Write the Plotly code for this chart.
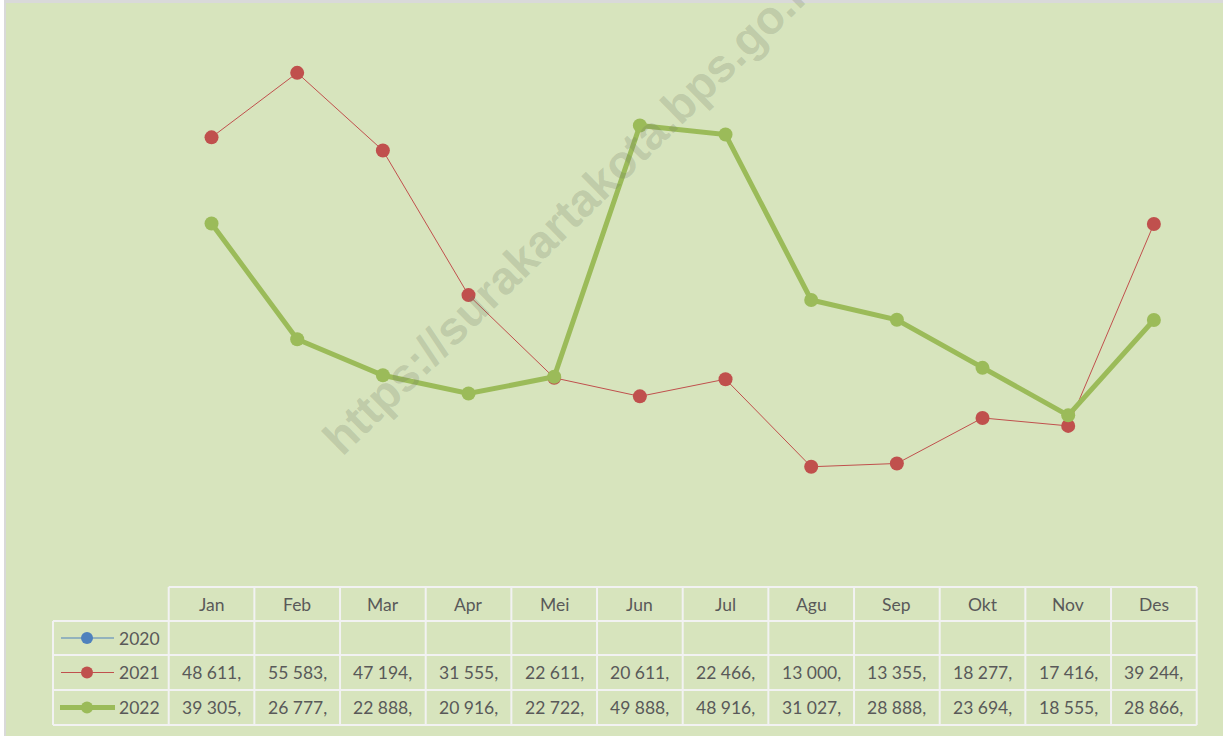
import plotly.graph_objects as go

months = ["Jan", "Feb", "Mar", "Apr", "Mei", "Jun", "Jul", "Agu", "Sep", "Okt", "Nov", "Des"]
series_names = ["2020", "2021", "2022"]
v2020 = [None] * 12
v2021 = [48611, 55583, 47194, 31555, 22611, 20611, 22466, 13000, 13355, 18277, 17416, 39244]
v2022 = [39305, 26777, 22888, 20916, 22722, 49888, 48916, 31027, 28888, 23694, 18555, 28866]
labels2021 = ["48 611,", "55 583,", "47 194,", "31 555,", "22 611,", "20 611,", "22 466,", "13 000,", "13 355,", "18 277,", "17 416,", "39 244,"]
labels2022 = ["39 305,", "26 777,", "22 888,", "20 916,", "22 722,", "49 888,", "48 916,", "31 027,", "28 888,", "23 694,", "18 555,", "28 866,"]
labels2020 = [""] * 12

W, H = 1223, 736
BG = "#d7e4bd"
GRID = "#f2f2f2"
TXT = "#595959"
FONT = "Lato"
FS = 17.5
colors = {"2020": "#4f81bd", "2021": "#c0504d", "2022": "#9bbb59"}
widths = {"2020": 1, "2021": 1, "2022": 5}


def px(x):
    return x / W


def py(y):
    return (H - y) / H


x_left, x_right = 168.7, 1196.7
fig = go.Figure()
idx = list(range(12))
for name, vals in zip(series_names, [v2020, v2021, v2022]):
    fig.add_trace(go.Scatter(
        x=idx, y=vals, mode="lines+markers", name=name,
        line=dict(color=colors[name], width=widths[name]),
        marker=dict(color=colors[name], size=14),
        connectgaps=False, showlegend=False, hoverinfo="skip",
    ))

shapes = []
annotations = []
# outer frame
shapes.append(dict(type="rect", xref="paper", yref="paper", x0=0, x1=px(4), y0=0, y1=1,
                   fillcolor="white", line=dict(width=0), layer="below"))
shapes.append(dict(type="rect", xref="paper", yref="paper", x0=px(4), x1=px(6), y0=0, y1=1,
                   fillcolor="#d9d9d9", line=dict(width=0), layer="below"))
shapes.append(dict(type="rect", xref="paper", yref="paper", x0=px(4), x1=1, y0=py(3), y1=1,
                   fillcolor="#d9d9d9", line=dict(width=0), layer="below"))

# table grid
row_y = [587, 621, 655, 690, 725]
col_x = [x_left + i * (x_right - x_left) / 12 for i in range(13)]
leg_left = 53
for i, yy in enumerate(row_y):
    x0 = x_left if i == 0 else leg_left
    shapes.append(dict(type="line", xref="paper", yref="paper", x0=px(x0), x1=px(x_right),
                       y0=py(yy), y1=py(yy), line=dict(color=GRID, width=2)))
shapes.append(dict(type="line", xref="paper", yref="paper", x0=px(leg_left), x1=px(leg_left),
                   y0=py(621), y1=py(725), line=dict(color=GRID, width=2)))
for xx in col_x:
    shapes.append(dict(type="line", xref="paper", yref="paper", x0=px(xx), x1=px(xx),
                       y0=py(587), y1=py(725), line=dict(color=GRID, width=2)))

row_centers = [604, 638, 672.5, 707.5]
for i, m in enumerate(months):
    annotations.append(dict(x=i, xref="x", y=py(row_centers[0]), yref="paper", text=m,
                            xanchor="center", yanchor="middle",
                            showarrow=False, font=dict(family=FONT, size=FS, color=TXT)))
for r, labs in enumerate([labels2020, labels2021, labels2022]):
    for i, t in enumerate(labs):
        if t:
            annotations.append(dict(x=i, xref="x", y=py(row_centers[r + 1]), yref="paper", text=t,
                                    xanchor="center", yanchor="middle",
                                    showarrow=False, font=dict(family=FONT, size=FS, color=TXT)))

# legend keys
for r, name in enumerate(series_names):
    yc = py(row_centers[r + 1])
    lx0, lx1 = (61, 114) if name != "2022" else (60, 115)
    shapes.append(dict(type="line", xref="paper", yref="paper", x0=px(lx0), x1=px(lx1), y0=yc, y1=yc,
                       line=dict(color=colors[name], width=widths[name])))
    shapes.append(dict(type="circle", xref="paper", yref="paper", xsizemode="pixel", ysizemode="pixel",
                       xanchor=px(87), yanchor=yc, x0=-6, x1=6, y0=-6, y1=6,
                       fillcolor=colors[name], line=dict(width=0)))
    annotations.append(dict(x=px(117), xref="paper", y=yc, yref="paper", text=name,
                            xanchor="left", yanchor="middle",
                            showarrow=False, font=dict(family=FONT, size=FS, color=TXT)))

# watermark
annotations.append(dict(x=px(574), y=py(208), xref="paper", yref="paper",
                        text="<b>https://surakartakota.bps.go.id</b>", showarrow=False, textangle=-44.4,
                        font=dict(family="Liberation Sans", size=46.5, color="rgba(110,120,100,0.24)"),
                        xanchor="center", yanchor="middle"))

fig.update_layout(
    width=W, height=H, margin=dict(l=0, r=0, t=0, b=0),
    paper_bgcolor=BG, plot_bgcolor=BG,
    xaxis=dict(domain=[px(x_left), px(x_right)], range=[-0.5, 11.5], visible=False, fixedrange=True),
    yaxis=dict(domain=[py(587), py(32)], range=[0, 60000], visible=False, fixedrange=True),
    shapes=shapes, annotations=annotations, showlegend=False,
)
fig.write_html("out.html", config={"displayModeBar": False},
               post_script="document.body.style.margin='0';document.body.style.padding='0';")
